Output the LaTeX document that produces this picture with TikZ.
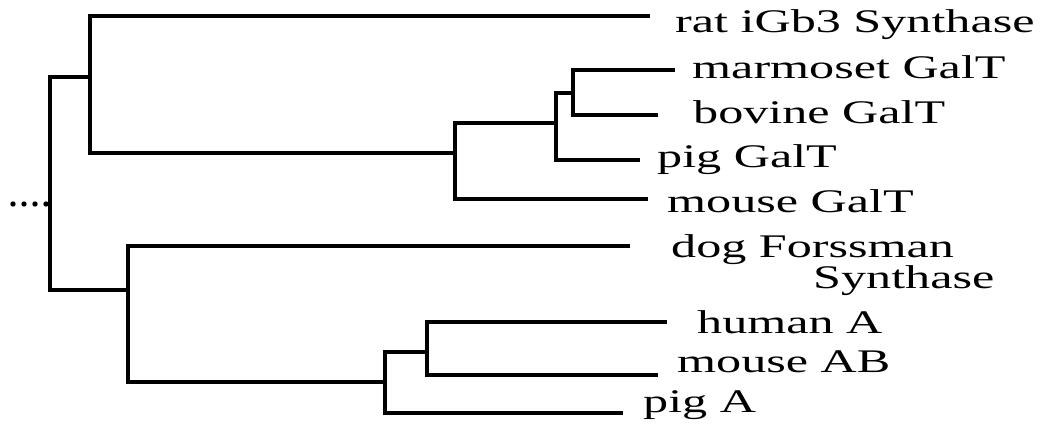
\documentclass[tikz,border=0pt]{standalone}
\usepackage{fontspec}
\setmainfont{Liberation Serif}[FakeStretch=1.52]
\begin{document}
\begin{tikzpicture}[x=1pt,y=-1pt,
  br/.style={line width=3.3pt,line join=miter},
  lab/.style={anchor=base west,inner sep=0pt,font=\fontsize{33}{30}\selectfont},
  dot/.style={fill=black}]
\useasboundingbox (0,0) rectangle (1043,430);
% internal nodes (attachment points)
\coordinate (R) at (50,204);
\coordinate (A) at (90,77);
\coordinate (B) at (455,153);
\coordinate (C) at (556,123);
\coordinate (D) at (573,93);
\coordinate (E) at (128,290);
\coordinate (F) at (385,382);
\coordinate (G) at (427,352);
% leaf ends
\coordinate (ratE) at (650,16);
\coordinate (marE) at (675,70);
\coordinate (bovE) at (658,115);
\coordinate (pigGE) at (640,160);
\coordinate (mouGE) at (648,199);
\coordinate (dogE) at (630,246);
\coordinate (humE) at (667,322);
\coordinate (mabE) at (658,375);
\coordinate (pigAE) at (623,413);
% branches
\draw[br] (R) |- (A);
\draw[br] (R) |- (E);
\draw[br] (A) |- (ratE);
\draw[br] (A) |- (B);
\draw[br] (B) |- (C);
\draw[br] (B) |- (mouGE);
\draw[br] (C) |- (D);
\draw[br] (C) |- (pigGE);
\draw[br] (D) |- (marE);
\draw[br] (D) |- (bovE);
\draw[br] (E) |- (dogE);
\draw[br] (E) |- (F);
\draw[br] (F) |- (G);
\draw[br] (F) |- (pigAE);
\draw[br] (G) |- (humE);
\draw[br] (G) |- (mabE);
% dots
\foreach \i/\x in {1/13,2/24,3/35,4/46} \fill[dot] (\x,204) circle (2.7pt) coordinate (dot\i);
% labels
\node[lab] (ratL) at (675,33) {rat iGb3 Synthase};
\node[lab] (marL) at (692,79) {marmoset GalT};
\node[lab] (bovL) at (693,124) {bovine GalT};
\node[lab] (pigGL) at (657,168) {pig GalT};
\node[lab] (mouGL) at (667,213) {mouse GalT};
\node[lab] (dogL) at (671,258) {dog Forssman};
\node[lab] (dogL2) at (813,288) {Synthase};
\node[lab] (humL) at (697,333) {human A};
\node[lab] (mabL) at (677,372) {mouse AB};
\node[lab] (pigAL) at (643,412) {pig A};
\end{tikzpicture}
\end{document}
